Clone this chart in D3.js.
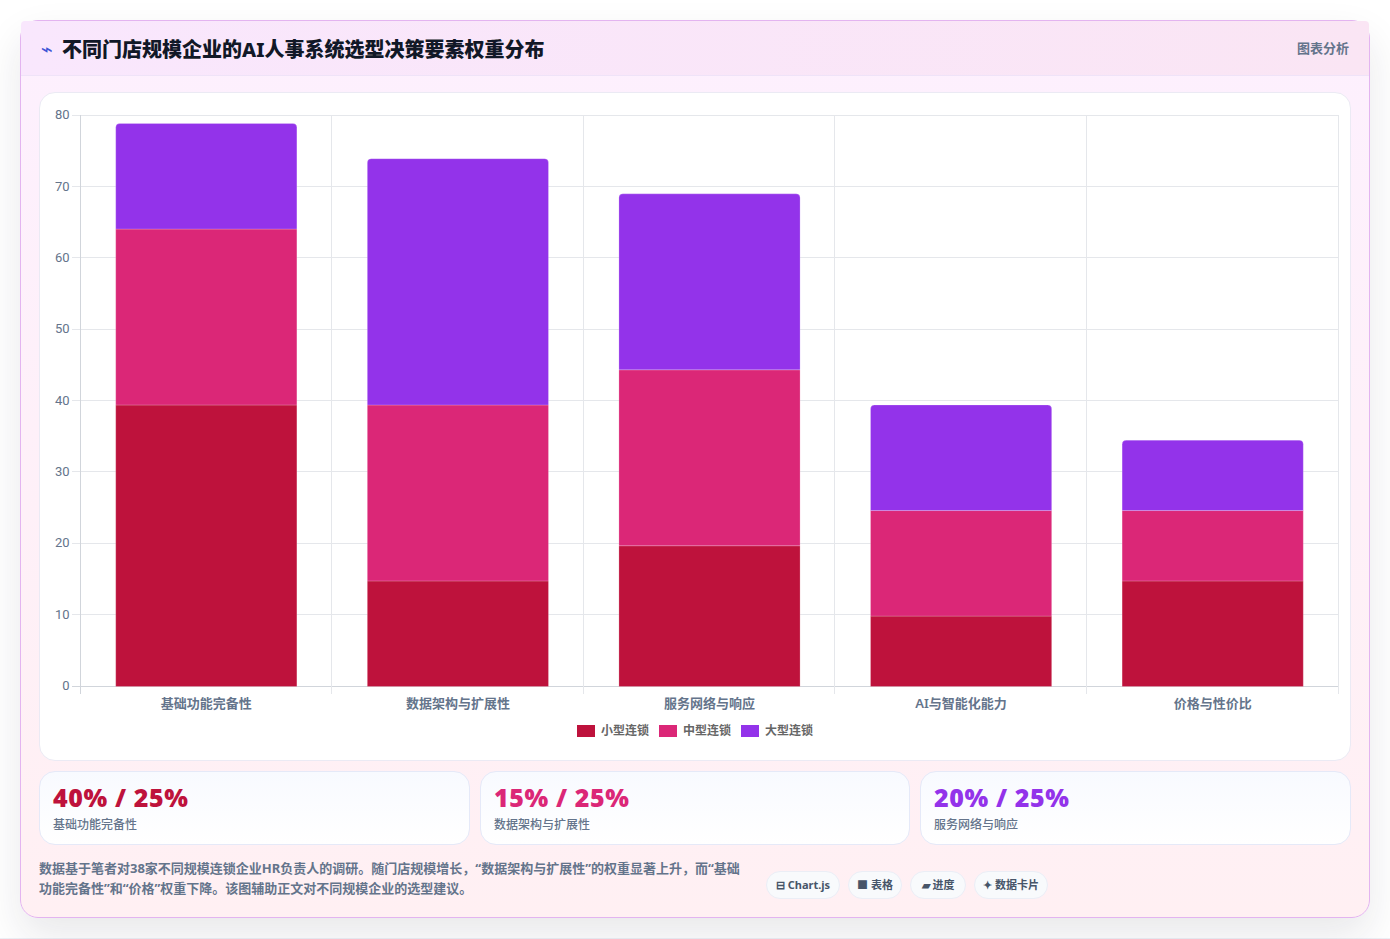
<!DOCTYPE html>
<html lang="zh">
<head>
<meta charset="utf-8">
<script src="https://cdn.jsdelivr.net/npm/d3@7"></script>
<style>
  * { box-sizing: border-box; }
  html, body { margin: 0; width: 1390px; height: 939px; overflow: hidden; background: #fff; }
  body { font-family: "Noto Sans", "Noto Sans CJK SC", sans-serif; position: relative; }
  .floor { position: absolute; left: 0; right: 0; top: 938px; height: 1px; background: #eef0f6; }
  .card {
    position: absolute; left: 20px; top: 20px; width: 1350px; height: 898px;
    border: 1px solid #e3b4f0; border-radius: 18px;
    background: linear-gradient(180deg, #fdf0fe 0%, #fff0f3 100%);
    box-shadow: 0 18px 40px rgba(30, 30, 50, 0.10);
  }
  .head {
    position: absolute; left: 0; top: 0; right: 0; height: 55px;
    background: linear-gradient(90deg, #f9e7fd 0%, #fae5f4 100%);
    border-bottom: 1px solid #efe3f8; border-radius: 4px 4px 0 0;
  }
  .bolt { position: absolute; left: 20px; top: 15px; font: 400 20px/26px "DejaVu Sans"; color: #3f55d6; }
  .title { position: absolute; left: 41px; top: 14px; font-size: 20px; line-height: 30px; font-weight: 800; color: #111827; white-space: nowrap; }
  .kind { position: absolute; right: 20px; top: 17px; font-size: 13px; line-height: 20px; font-weight: 700; color: #64748b; }
  .plot {
    position: absolute; left: 18px; top: 71px; width: 1312px; height: 669px;
    background: #fff; border: 1px solid #ebeaf4; border-radius: 16px;
  }
  svg { position: absolute; left: 0; top: 0; }
  .stat {
    position: absolute; top: 750px; height: 74px; width: 430px;
    border: 1px solid #e5e9f8; border-radius: 16px;
    background: linear-gradient(180deg, #f8faff 0%, #ffffff 100%);
  }
  .stat b { position: absolute; left: 13px; top: 8px; font: 900 25px/34px "Noto Sans", sans-serif; letter-spacing: 0.6px; white-space: nowrap; }
  .stat span { position: absolute; left: 13px; top: 44px; font-size: 12px; line-height: 18px; font-weight: 500; color: #64748b; white-space: nowrap; }
  .note { position: absolute; left: 18px; top: 837px; width: 710px; font-size: 13px; line-height: 20px; font-weight: 700; color: #64748b; }
  .pill {
    position: absolute; top: 850px; height: 28px; border: 1px solid #ebeef6; border-radius: 14px;
    background: #f8fafc; font-size: 11px; line-height: 25px; font-weight: 700; color: #475569;
    text-align: center; white-space: nowrap;
  }
</style>
</head>
<body>
<div class="floor"></div>
<div class="card">
  <div class="head">
    <div class="bolt">⌁</div>
    <div class="title">不同门店规模企业的AI人事系统选型决策要素权重分布</div>
    <div class="kind">图表分析</div>
  </div>
  <div class="plot"></div>
  <div id="stats"></div>
  <div class="note">数据基于笔者对38家不同规模连锁企业HR负责人的调研。随门店规模增长，“数据架构与扩展性”的权重显著上升，而“基础功能完备性”和“价格”权重下降。该图辅助正文对不同规模企业的选型建议。</div>
  <div id="pills"></div>
</div>
<svg id="chart" width="1390" height="939"></svg>
<script>
// Decision factors and the weight each store-size group gives them
const categories = ["基础功能完备性", "数据架构与扩展性", "服务网络与响应", "AI与智能化能力", "价格与性价比"];
const seriesNames = ["小型连锁", "中型连锁", "大型连锁"];
const seriesColors = ["#be123c", "#db2777", "#9333ea"];
const smallChain = [40, 15, 20, 10, 15];
const mediumChain = [25, 25, 25, 15, 10];
const largeChain = [15, 35, 25, 15, 10];
const yTicks = [0, 10, 20, 30, 40, 50, 60, 70, 80];

const statValues = ["40% / 25%", "15% / 25%", "20% / 25%"];
const statLabels = ["基础功能完备性", "数据架构与扩展性", "服务网络与响应"];
const statLefts = [18, 459, 899];
const pillLabels = ["⊟ Chart.js", "■ 表格", "▰ 进度", "✦ 数据卡片"];
const pillLefts = [745, 827, 889, 953];
const pillWidths = [74, 54, 56, 74];

// Summary cards and tool tags under the chart
d3.select("#stats").selectAll("div").data(statValues).join("div")
  .attr("class", "stat")
  .style("left", (d, i) => statLefts[i] + "px")
  .style("width", (d, i) => (i === 1 ? 430 : 431) + "px")
  .html((d, i) => `<b style="color:${seriesColors[i]}">${d}</b><span>${statLabels[i]}</span>`);

d3.select("#pills").selectAll("div").data(pillLabels).join("div")
  .attr("class", "pill")
  .style("left", (d, i) => pillLefts[i] + "px")
  .style("width", (d, i) => pillWidths[i] + "px")
  .text(d => d);

// Plot frame in page coordinates
const frame = { left: 80, right: 1338, top: 115, bottom: 686 };
const svg = d3.select("#chart");

const x = d3.scaleBand().domain(categories).range([frame.left, frame.right]);
const y = d3.scaleLinear().domain([0, 80]).range([frame.bottom, frame.top]);

// Bars stop just short of their final height, as eased columns do near the end of their rise
const riseProgress = 0.986;
const barBase = frame.bottom + 0.5;
const yBar = d3.scaleLinear().domain([0, 80])
  .range([barBase, barBase - riseProgress * (frame.bottom - frame.top)]);

const barWidth = x.bandwidth() * 0.72;
const gridColor = "#e5e7eb";
const axisColor = "#d1d5db";
const tickFont = '13px Roboto, Arial, sans-serif';

// Grid
svg.append("g").selectAll("line").data(yTicks).join("line")
  .attr("x1", frame.left - 8).attr("x2", frame.right)
  .attr("y1", d => Math.floor(y(d)) + 0.5).attr("y2", d => Math.floor(y(d)) + 0.5)
  .attr("stroke", d => d === 0 ? axisColor : gridColor);

const bandEdges = categories.map(c => x(c)).concat(frame.right);
svg.append("g").selectAll("line").data(bandEdges).join("line")
  .attr("x1", d => Math.floor(d) + 0.5).attr("x2", d => Math.floor(d) + 0.5)
  .attr("y1", frame.top).attr("y2", frame.bottom + 8)
  .attr("stroke", (d, i) => i === 0 ? axisColor : gridColor);

// Stacked columns
const rows = categories.map((c, i) => ({
  category: c,
  [seriesNames[0]]: smallChain[i],
  [seriesNames[1]]: mediumChain[i],
  [seriesNames[2]]: largeChain[i]
}));
const stacked = d3.stack().keys(seriesNames)(rows);

stacked.forEach((layer, s) => {
  const g = svg.append("g").attr("fill", seriesColors[s]);
  g.selectAll("path").data(layer).join("path")
    .attr("stroke", "rgba(255,255,255,0.2)")
    .attr("stroke-width", 1)
    .attr("d", d => {
      const path = d3.path();
      const bx = x(d.data.category) + (x.bandwidth() - barWidth) / 2 + 0.5;
      const top = yBar(d[1]);
      const bottom = yBar(d[0]);
      const r = s === 2 ? 4 : 0;
      path.moveTo(bx, bottom);
      path.lineTo(bx, top + r);
      if (r) path.quadraticCurveTo(bx, top, bx + r, top);
      path.lineTo(bx + barWidth - r, top);
      if (r) path.quadraticCurveTo(bx + barWidth, top, bx + barWidth, top + r);
      path.lineTo(bx + barWidth, bottom);
      path.closePath();
      return path.toString();
    });
});

// Axis labels
svg.append("g").selectAll("text").data(yTicks).join("text")
  .attr("x", frame.left - 10.5).attr("y", d => y(d))
  .attr("dy", "0.32em").attr("text-anchor", "end")
  .style("font", tickFont).attr("fill", "#64748b")
  .text(d => d);

svg.append("g").selectAll("text").data(categories).join("text")
  .attr("x", d => x(d) + x.bandwidth() / 2 + 0.5).attr("y", 708)
  .attr("text-anchor", "middle")
  .style("font-size", "13px").style("font-weight", 600)
  .attr("fill", "#64748b")
  .text(d => d);

// Legend
const legendLefts = [577, 659, 741];
const legend = svg.append("g").selectAll("g").data(seriesNames).join("g")
  .attr("transform", (d, i) => `translate(${legendLefts[i]},725)`);
legend.append("rect").attr("width", 18).attr("height", 12).attr("fill", (d, i) => seriesColors[i]);
legend.append("text").attr("x", 24).attr("y", 10)
  .style("font-size", "12px").style("font-weight", 600)
  .attr("fill", "#666").text(d => d);
</script>
</body>
</html>
